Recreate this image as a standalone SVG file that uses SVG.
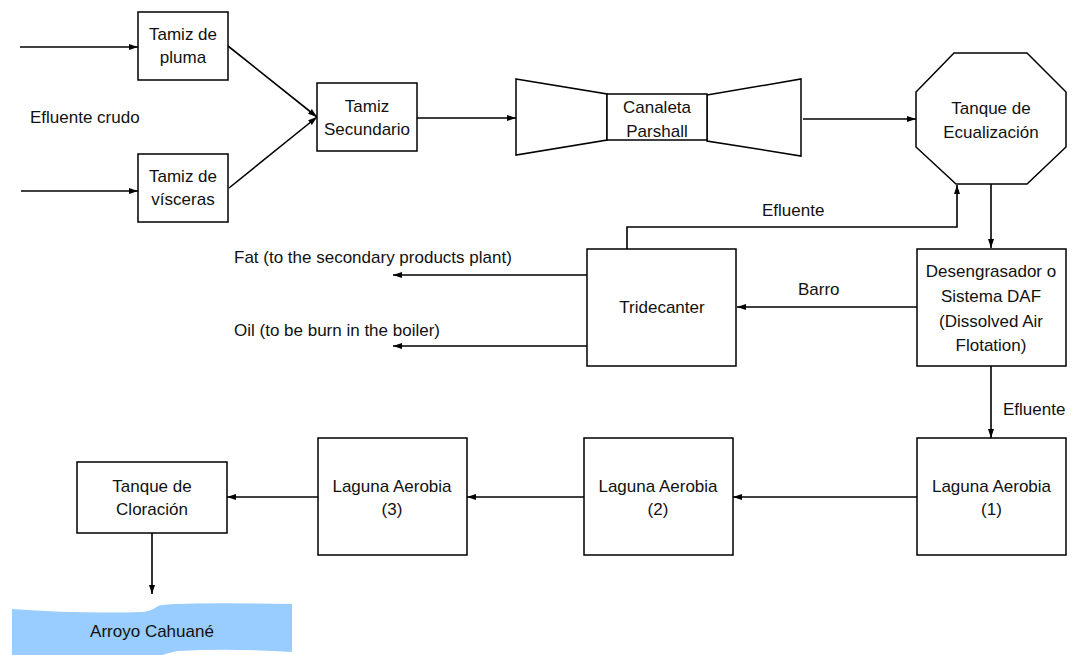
<svg xmlns="http://www.w3.org/2000/svg" width="1074" height="655" viewBox="0 0 1074 655">
<style>
.b{fill:#fff;stroke:#000;stroke-width:1.5}
.t{font-family:"Liberation Sans",Arial,sans-serif;font-size:17px;fill:#111;text-anchor:middle}
.l{font-family:"Liberation Sans",Arial,sans-serif;font-size:17px;fill:#111}
.c{fill:none;stroke:#000;stroke-width:1.6}
</style>
<defs>
<marker id="ah" markerUnits="userSpaceOnUse" markerWidth="10" markerHeight="8" refX="9" refY="4" orient="auto">
<path d="M0,1 L9,4 L0,7 Z" fill="#000"/>
</marker>
</defs>
<rect width="1074" height="655" fill="#fff"/>
<g id="connectors">
<line class="c" x1="20" y1="47" x2="138" y2="47" marker-end="url(#ah)"/>
<line class="c" x1="21" y1="191" x2="138" y2="191" marker-end="url(#ah)"/>
<line class="c" x1="228" y1="46" x2="317" y2="117" marker-end="url(#ah)"/>
<line class="c" x1="229" y1="188" x2="317" y2="117" marker-end="url(#ah)"/>
<line class="c" x1="417" y1="118" x2="516" y2="118" marker-end="url(#ah)"/>
<line class="c" x1="803" y1="119" x2="916" y2="119" marker-end="url(#ah)"/>
<line class="c" x1="991" y1="184" x2="991" y2="248" marker-end="url(#ah)"/>
<polyline class="c" points="627,249 627,227 957,227 957,185" marker-end="url(#ah)"/>
<line class="c" x1="917" y1="307" x2="737" y2="307" marker-end="url(#ah)"/>
<line class="c" x1="587" y1="275" x2="393" y2="275" marker-end="url(#ah)"/>
<line class="c" x1="587" y1="346" x2="393" y2="346" marker-end="url(#ah)"/>
<line class="c" x1="991" y1="366" x2="991" y2="438" marker-end="url(#ah)"/>
<line class="c" x1="917" y1="497" x2="733" y2="497" marker-end="url(#ah)"/>
<line class="c" x1="584" y1="497" x2="467" y2="497" marker-end="url(#ah)"/>
<line class="c" x1="318" y1="497" x2="227" y2="497" marker-end="url(#ah)"/>
<line class="c" x1="152" y1="533" x2="152" y2="594" marker-end="url(#ah)"/>
<text class="l" x="762" y="216">Efluente</text>
<text class="l" x="798" y="295">Barro</text>
<text class="l" x="1003" y="415">Efluente</text>
<text class="l" x="234" y="263">Fat (to the secondary products plant)</text>
<text class="l" x="234" y="336">Oil (to be burn in the boiler)</text>
<text class="l" x="30" y="123">Efluente crudo</text>
</g>
<g id="tamiz-pluma">
<rect class="b" x="138" y="12" width="90" height="68"/>
<text class="t" x="183" y="40">Tamiz de</text>
<text class="t" x="183" y="63">pluma</text>
</g>
<g id="tamiz-visceras">
<rect class="b" x="138" y="154" width="90" height="68"/>
<text class="t" x="183" y="182">Tamiz de</text>
<text class="t" x="183" y="205">vísceras</text>
</g>
<g id="tamiz-secundario">
<rect class="b" x="317" y="83" width="100" height="68"/>
<text class="t" x="367" y="112">Tamiz</text>
<text class="t" x="367" y="135">Secundario</text>
</g>
<g id="canaleta-parshall">
<polygon class="b" points="516,79 607,94 607,140 516,155"/>
<polygon class="b" points="707,95 801,79 801,156 707,141"/>
<rect class="b" x="607" y="94" width="100" height="46"/>
<text class="t" x="657" y="113">Canaleta</text>
<text class="t" x="657" y="137">Parshall</text>
</g>
<g id="tanque-ecualizacion">
<polygon class="b" points="954,53 1027,53 1066,92 1066,147 1027,184 956,184 916,147 916,92"/>
<text class="t" x="991" y="114">Tanque de</text>
<text class="t" x="991" y="138">Ecualización</text>
</g>
<g id="daf">
<rect class="b" x="917" y="249" width="149" height="117"/>
<text class="t" x="991" y="277">Desengrasador o</text>
<text class="t" x="991" y="302">Sistema DAF</text>
<text class="t" x="991" y="327">(Dissolved Air</text>
<text class="t" x="991" y="351">Flotation)</text>
</g>
<g id="tridecanter">
<rect class="b" x="587" y="249" width="149" height="117"/>
<text class="t" x="662" y="313">Tridecanter</text>
</g>
<g id="laguna-1">
<rect class="b" x="917" y="438" width="149" height="117"/>
<text class="t" x="991.5" y="492">Laguna Aerobia</text>
<text class="t" x="991.5" y="515">(1)</text>
</g>
<g id="laguna-2">
<rect class="b" x="584" y="438" width="149" height="117"/>
<text class="t" x="658" y="492">Laguna Aerobia</text>
<text class="t" x="658" y="515">(2)</text>
</g>
<g id="laguna-3">
<rect class="b" x="318" y="438" width="149" height="117"/>
<text class="t" x="392" y="492">Laguna Aerobia</text>
<text class="t" x="392" y="515">(3)</text>
</g>
<g id="tanque-cloracion">
<rect class="b" x="77" y="462" width="150" height="71"/>
<text class="t" x="152" y="492">Tanque de</text>
<text class="t" x="152" y="515">Cloración</text>
</g>
<g id="arroyo">
<path d="M12,609 Q80,614 143,612 Q152,611 158,606 Q168,602 292,604 L292,652 Q230,648 178,651 Q168,653 162,655 L12,655 Z" fill="#99ccff"/>
<text class="t" x="152" y="637">Arroyo Cahuané</text>
</g>
</svg>
